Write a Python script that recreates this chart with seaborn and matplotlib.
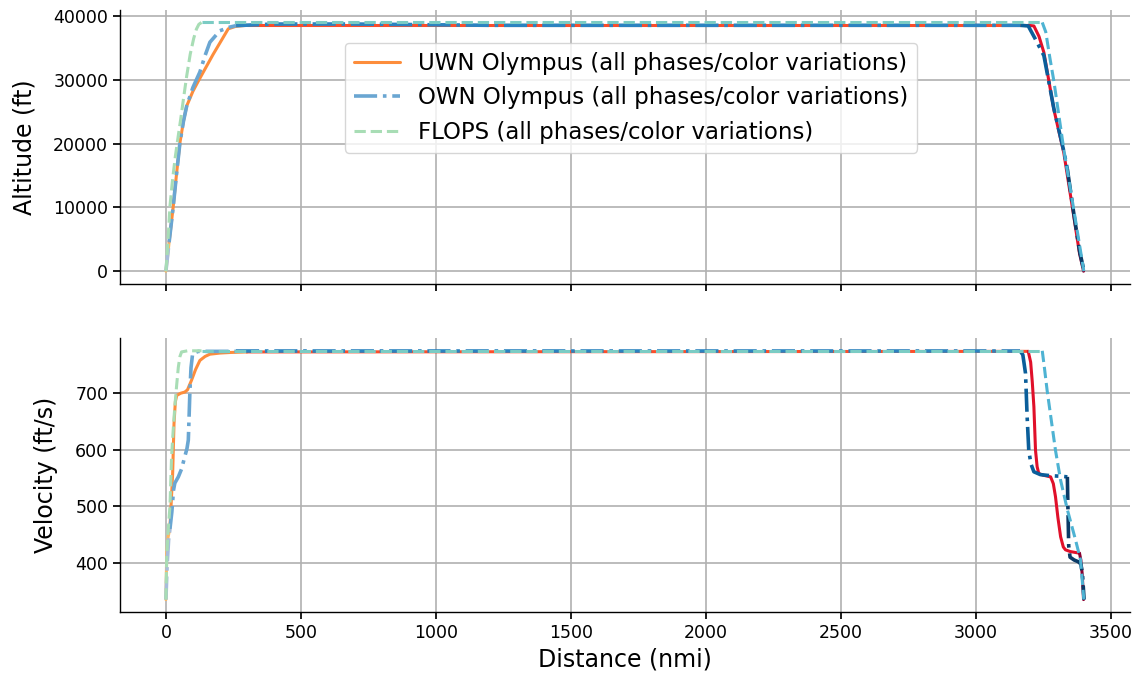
import numpy as np
import pandas as pd
import matplotlib
matplotlib.use("Agg")
import matplotlib.pyplot as plt
import seaborn as sns
from matplotlib.lines import Line2D

# ---------------- data ----------------
# UWN Olympus (solid) - phases
uwn_climb1_dist = [0, 6, 12]
uwn_climb1_alt = [0, 2300, 4600]
uwn_climb1_vel_dist = [0, 3, 8, 12]
uwn_climb1_vel = [335, 417, 445, 455]

uwn_climb2_dist = [12, 20, 27, 40, 52, 65, 77, 100, 120, 175, 231, 260, 300]
uwn_climb2_alt = [4600, 7500, 10100, 15500, 20150, 23500, 25900, 28200, 29800, 34000, 38000, 38400, 38550]
uwn_climb2_vel_dist = [12, 15, 20, 25, 30, 35, 40, 55, 70, 80, 95, 110, 126, 145, 163, 200, 237, 300]
uwn_climb2_vel = [455, 464, 510, 558, 646, 685, 696, 700, 702, 706, 723, 742, 758, 765, 769, 771, 772, 773]

uwn_cruise_dist = [300, 3195]
uwn_cruise_alt = [38550, 38550]
uwn_cruise_vel = [773, 774]

uwn_desc1_dist = [3195, 3216, 3235, 3253, 3290, 3327, 3364, 3385]
uwn_desc1_alt = [38550, 38450, 36800, 34300, 25350, 18530, 8550, 2800]
uwn_desc1_vel_dist = [3195, 3204, 3210, 3216, 3222, 3228, 3234, 3250, 3278, 3288, 3296, 3305, 3315, 3325, 3333, 3350, 3385]
uwn_desc1_vel = [774, 755, 720, 676, 599, 570, 558, 555, 552, 540, 517, 480, 446, 428, 423, 420, 417]

uwn_final_dist = [3385, 3400]
uwn_final_alt = [2800, 0]
uwn_final_vel_dist = [3385, 3390, 3395, 3400]
uwn_final_vel = [417, 405, 380, 335]

# OWN Olympus (dash-dot) - phases
own_climb1_dist = [0, 6, 12]
own_climb1_alt = [0, 2300, 4600]
own_climb1_vel_dist = [0, 5, 10, 15]
own_climb1_vel = [335, 400, 440, 460]

own_climb2_dist = [12, 20, 27, 40, 52, 65, 77, 100, 126, 145, 163, 200, 237, 260]
own_climb2_alt = [4600, 7500, 10100, 15500, 20150, 23500, 25900, 28800, 31240, 33800, 35900, 37700, 38270, 38500]
own_climb2_vel_dist = [15, 22, 28, 33, 46, 58, 70, 78, 83, 86, 89, 93, 99, 120, 260]
own_climb2_vel = [460, 490, 528, 541, 552, 566, 588, 602, 617, 660, 705, 745, 770, 774, 774]

own_cruise_dist = [260, 400, 700, 1200, 3166]
own_cruise_alt = [38500, 38750, 38750, 38550, 38550]
own_cruise_vel_dist = [260, 3166]
own_cruise_vel = [774, 774]

own_desc1_dist = [3166, 3195, 3220, 3253, 3290, 3327, 3340]
own_desc1_alt = [38550, 38450, 36500, 33800, 25500, 18800, 16000]
own_desc1_vel_dist = [3166, 3175, 3185, 3191, 3197, 3205, 3216, 3240, 3280, 3320, 3340]
own_desc1_vel = [774, 768, 735, 658, 599, 575, 561, 556, 554, 553, 552]

own_final_dist = [3340, 3364, 3385, 3402]
own_final_alt = [16000, 9000, 3200, 0]
own_final_vel_dist = [3340, 3342, 3345, 3350, 3365, 3380, 3390, 3396, 3402]
own_final_vel = [552, 500, 430, 410, 405, 402, 398, 380, 335]

# FLOPS (dashed) - phases
flops_climb_dist = [0, 8, 15, 25, 35, 45, 55, 65, 77, 90, 103, 113, 122, 132]
flops_climb_alt = [0, 5000, 10200, 14500, 18000, 21000, 23900, 27000, 30600, 34000, 36500, 37950, 38700, 39000]
flops_climb_vel_dist = [0, 3, 8, 15, 21, 27, 33, 40, 46, 52, 58, 80, 132]
flops_climb_vel = [335, 411, 455, 500, 588, 635, 676, 715, 746, 765, 773, 775, 775]

flops_cruise_dist = [132, 3247]
flops_cruise_alt = [39000, 39000]
flops_cruise_vel = [775, 775]

flops_desc_dist = [3247, 3260, 3275, 3290, 3327, 3364, 3401]
flops_desc_alt = [39000, 37500, 33500, 29800, 19050, 9600, 0]
flops_desc_vel_dist = [3247, 3255, 3265, 3296, 3315, 3340, 3370, 3389, 3401]
flops_desc_vel = [775, 745, 705, 599, 546, 494, 441, 405, 335]

legend_labels = ["UWN Olympus (all phases/color variations)",
                 "OWN Olympus (all phases/color variations)",
                 "FLOPS (all phases/color variations)"]

# ---------------- styling ----------------
sns.set_theme(style="ticks")
plt.rcParams["font.family"] = ["DejaVu Sans"]
plt.rcParams.update({
    "axes.grid": True,
    "grid.color": "#b0b0b0",
    "grid.linewidth": 1.2,
    "axes.edgecolor": "black",
    "axes.linewidth": 1.0,
    "xtick.color": "black",
    "ytick.color": "black",
    "text.color": "black",
    "axes.labelcolor": "black",
    "xtick.major.size": 5,
    "ytick.major.size": 5,
})

uwn_cols = ["#fdb863", "#fd8d3c", "#fc4e2a", "#e0102a", "#8a0030"]
own_cols = ["#a6bddb", "#6aa6d2", "#2b83c0", "#0b5e9a", "#0a3a66"]
flops_cols = ["#a8ddb5", "#7bccc4", "#4eb3d3"]

LW = 2.2

fig, (ax1, ax2) = plt.subplots(2, 1, figsize=(11.32, 6.86), dpi=100, sharex=True)
fig.subplots_adjust(left=120 / 1132, right=1130 / 1132, top=1 - 10 / 686,
                    bottom=1 - 612 / 686, hspace=0.20)


def seg(ax, x, y, color, ls, lw=LW):
    df = pd.DataFrame({"x": x, "y": y})
    sns.lineplot(data=df, x="x", y="y", ax=ax, color=color, linestyle=ls,
                 linewidth=lw, sort=False, estimator=None, legend=False)


uwn_alt = [(uwn_climb1_dist, uwn_climb1_alt), (uwn_climb2_dist, uwn_climb2_alt),
           (uwn_cruise_dist, uwn_cruise_alt), (uwn_desc1_dist, uwn_desc1_alt),
           (uwn_final_dist, uwn_final_alt)]
own_alt = [(own_climb1_dist, own_climb1_alt), (own_climb2_dist, own_climb2_alt),
           (own_cruise_dist, own_cruise_alt), (own_desc1_dist, own_desc1_alt),
           (own_final_dist, own_final_alt)]
flops_alt = [(flops_climb_dist, flops_climb_alt), (flops_cruise_dist, flops_cruise_alt),
             (flops_desc_dist, flops_desc_alt)]

uwn_vel = [(uwn_climb1_vel_dist, uwn_climb1_vel), (uwn_climb2_vel_dist, uwn_climb2_vel),
           (uwn_cruise_dist, uwn_cruise_vel), (uwn_desc1_vel_dist, uwn_desc1_vel),
           (uwn_final_vel_dist, uwn_final_vel)]
own_vel = [(own_climb1_vel_dist, own_climb1_vel), (own_climb2_vel_dist, own_climb2_vel),
           (own_cruise_vel_dist, own_cruise_vel), (own_desc1_vel_dist, own_desc1_vel),
           (own_final_vel_dist, own_final_vel)]
flops_vel = [(flops_climb_vel_dist, flops_climb_vel), (flops_cruise_dist, flops_cruise_vel),
             (flops_desc_vel_dist, flops_desc_vel)]

for ax, u, o, f in [(ax1, uwn_alt, own_alt, flops_alt), (ax2, uwn_vel, own_vel, flops_vel)]:
    for (x, y), c in zip(u, uwn_cols):
        seg(ax, x, y, c, "-")
    for (x, y), c in zip(o, own_cols):
        seg(ax, x, y, c, "-.", lw=2.6)
    for (x, y), c in zip(f, flops_cols):
        seg(ax, x, y, c, "--")

for ax in (ax1, ax2):
    sns.despine(ax=ax)
    ax.tick_params(labelsize=12.5)
    ax.set_axisbelow(True)

ax1.set_ylabel("Altitude (ft)", fontsize=17, labelpad=12)
ax2.set_ylabel("Velocity (ft/s)", fontsize=17, labelpad=12)
ax1.set_xlabel("")
ax2.set_xlabel("Distance (nmi)", fontsize=17)
ax1.set_yticks([0, 10000, 20000, 30000, 40000])
ax2.set_yticks([400, 500, 600, 700])
ax2.set_xticks([0, 500, 1000, 1500, 2000, 2500, 3000, 3500])

handles = [Line2D([], [], color=uwn_cols[1], ls="-", lw=LW),
           Line2D([], [], color=own_cols[1], ls="-.", lw=2.6),
           Line2D([], [], color=flops_cols[0], ls="--", lw=LW)]
ax1.legend(handles, legend_labels, loc="upper center", bbox_to_anchor=(0.506, 0.922),
           fontsize=16.5, frameon=True, handlelength=2.0)

fig.savefig("out.png", dpi=100)
